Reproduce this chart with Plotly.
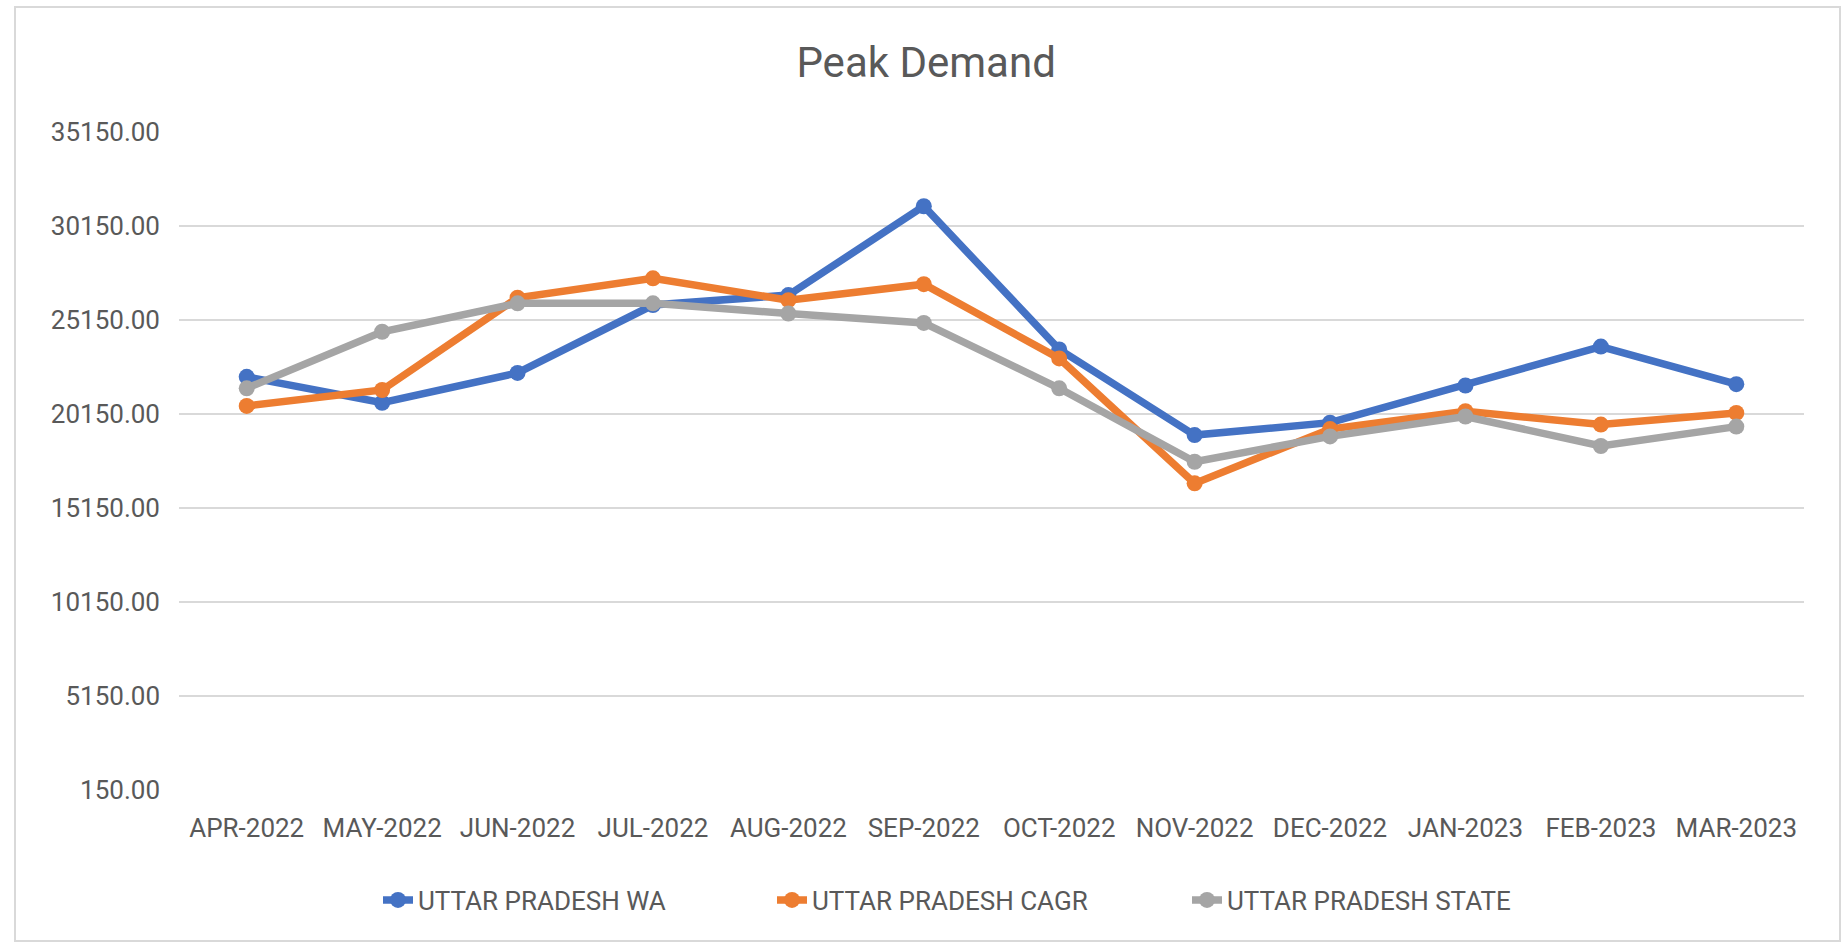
import plotly.graph_objects as go

months = ["APR-2022", "MAY-2022", "JUN-2022", "JUL-2022", "AUG-2022", "SEP-2022",
          "OCT-2022", "NOV-2022", "DEC-2022", "JAN-2023", "FEB-2023", "MAR-2023"]

up_wa = [22130, 20750, 22340, 25950, 26480, 31210, 23590, 19030, 19690, 21670, 23740, 21740]
up_cagr = [20580, 21430, 26340, 27370, 26210, 27060, 23110, 16460, 19350, 20300, 19590, 20210]
up_state = [21520, 24530, 26040, 26040, 25500, 25000, 21520, 17610, 18960, 20020, 18450, 19480]

series_names = ["UTTAR PRADESH WA", "UTTAR PRADESH CAGR", "UTTAR PRADESH STATE"]
series_values = [up_wa, up_cagr, up_state]
series_colors = ["#4472C4", "#ED7D31", "#A5A5A5"]
legend_widths = [349, 370, 300]

y_ticks = [150, 5150, 10150, 15150, 20150, 25150, 30150, 35150]
y_tick_text = [f"{v:.2f}" for v in y_ticks]

FONT = "Roboto, Carlito, Calibri, sans-serif"
TXT = "#595959"

fig = go.Figure()
for name, vals, col, lw in zip(series_names, series_values, series_colors, legend_widths):
    fig.add_trace(go.Scatter(
        x=months, y=vals, name=name, mode="lines+markers",
        line=dict(color=col, width=7.5),
        marker=dict(color=col, size=16),
        legendwidth=lw,
    ))

W, H = 1843, 945
L, R, T, B = 179, 39, 132, 155
pw, ph = W - L - R, H - T - B

def px_x(x):
    return (x - L) / pw

def px_y(y):
    return (H - B - y) / ph

fig.update_layout(
    width=W, height=H,
    margin=dict(l=L, r=R, t=T, b=B),
    paper_bgcolor="white", plot_bgcolor="white",
    font=dict(family=FONT, color=TXT, size=26),
    title=dict(text="Peak Demand", x=0.5025, xanchor="center",
               y=1 - 62 / H, yref="container", yanchor="middle",
               font=dict(size=42, color=TXT, family=FONT)),
    showlegend=True,
    legend=dict(orientation="h", x=px_x(378), xanchor="left",
                y=px_y(900), yanchor="middle",
                font=dict(size=26, color=TXT, family=FONT),
                bgcolor="rgba(0,0,0,0)"),
    xaxis=dict(type="category", range=[-0.5, 11.5], showgrid=False, zeroline=False,
               showline=False, ticks="", ticklabelstandoff=20,
               tickfont=dict(size=26, color=TXT)),
    yaxis=dict(range=[140, 35160], tickvals=y_ticks, ticktext=y_tick_text,
               showgrid=True, gridcolor="#D9D9D9", gridwidth=1.6,
               zeroline=False, showline=False, ticks="",
               ticklabelstandoff=18, tickfont=dict(size=26, color=TXT)),
    shapes=[dict(type="rect", xref="paper", yref="paper",
                 x0=px_x(15), x1=px_x(1840), y0=px_y(941), y1=px_y(7),
                 line=dict(color="#D9D9D9", width=2), fillcolor="rgba(0,0,0,0)",
                 layer="below")],
)

fig.write_html("out.html", config={"displayModeBar": False},
               post_script="document.body.style.margin='0';document.body.style.padding='0';")
